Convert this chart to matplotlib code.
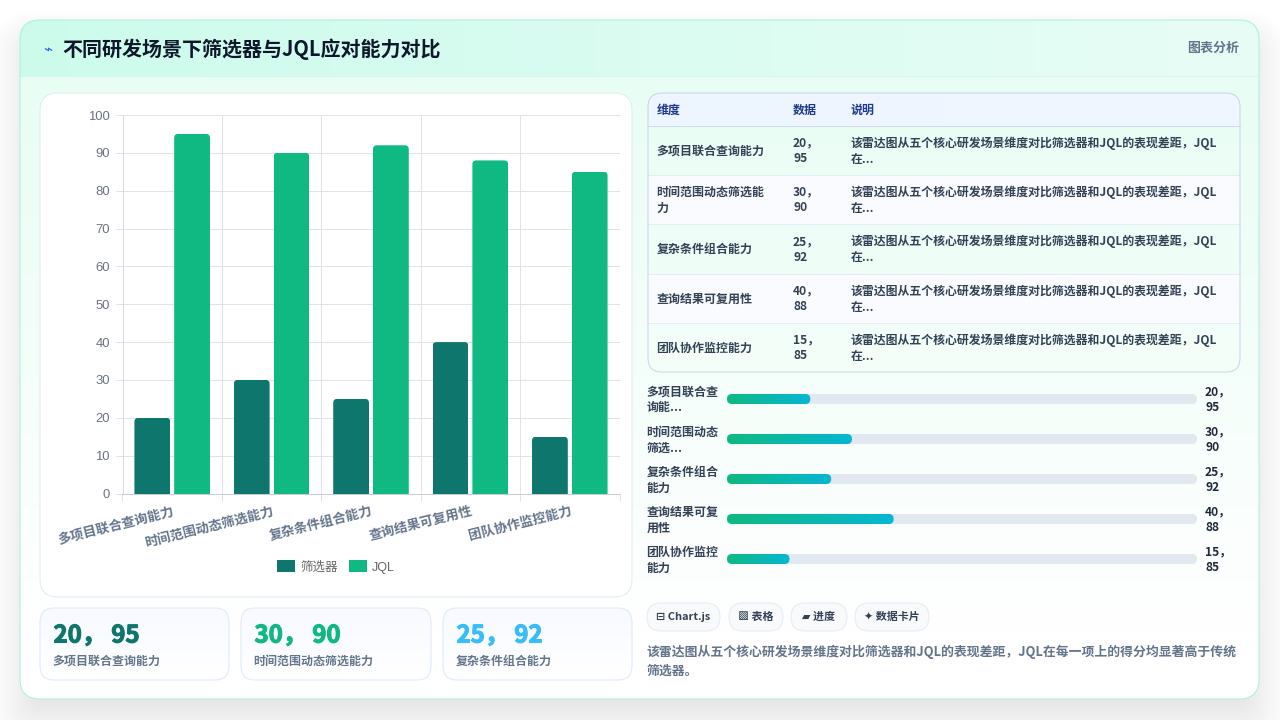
import numpy as np
import matplotlib
matplotlib.use("Agg")
import matplotlib.pyplot as plt
import matplotlib.patheffects as pe
from matplotlib.colors import to_rgb
from matplotlib.font_manager import FontProperties
from matplotlib.patches import FancyBboxPatch, Rectangle
from matplotlib.path import Path

plt.rcParams['font.family'] = ['Noto Sans CJK SC', 'DejaVu Sans']

categories = ["多项目联合查询能力", "时间范围动态筛选能力", "复杂条件组合能力", "查询结果可复用性", "团队协作监控能力"]
filter_scores = [20, 30, 25, 40, 15]
jql_scores = [95, 90, 92, 88, 85]
y_ticks = [0, 10, 20, 30, 40, 50, 60, 70, 80, 90, 100]

title = "不同研发场景下筛选器与JQL应对能力对比"
table_headers = ["维度", "数据", "说明"]
table_labels = ["多项目联合查询能力", "时间范围动态筛选能\n力", "复杂条件组合能力", "查询结果可复用性", "团队协作监控能力"]
table_note = "该雷达图从五个核心研发场景维度对比筛选器和JQL的表现差距，JQL\n在..."
progress_labels = ["多项目联合查\n询能...", "时间范围动态\n筛选...", "复杂条件组合\n能力", "查询结果可复\n用性", "团队协作监控\n能力"]
progress_max = 112.8
pills = ["⊟ Chart.js", "▩ 表格", "▰ 进度", "✦ 数据卡片"]
summary = "该雷达图从五个核心研发场景维度对比筛选器和JQL的表现差距，JQL在每一项上的得分均显著高于传统\n筛选器。"
stat_colors = ["#0F766E", "#10B981", "#38BDF8"]

DARK = "#0F766E"
GREEN = "#10B981"
PX = 0.72  # css px to pt at 100 dpi
LW = 0.72


def rbox(ax, x0, y0, x1, y1, r, fc="none", ec="none", lw=LW, z=2, alpha=None):
    p = FancyBboxPatch((x0, y0), x1 - x0, y1 - y0, boxstyle=f"round,pad=0,rounding_size={r}",
                       fc=fc, ec=ec, lw=lw, zorder=z, alpha=alpha)
    ax.add_patch(p)
    return p


def gradient(ax, x0, y0, x1, y1, c0, c1, clip, z=2, horizontal=True, stop=1.0):
    n = 256
    t = np.linspace(0, 1, n) / stop
    t = np.clip(t, 0, 1)[:, None]
    colors = np.array(to_rgb(c0)) * (1 - t) + np.array(to_rgb(c1)) * t
    img = colors[None, :, :] if horizontal else colors[:, None, :]
    im = ax.imshow(img, extent=(x0, x1, y1, y0), origin="upper", aspect="auto", zorder=z,
                   interpolation="bilinear")
    im.set_clip_path(clip)
    return im


fig = plt.figure(figsize=(12.8, 7.2), dpi=100, facecolor="white")
bg = fig.add_axes([0, 0, 1, 1])
bg.set_xlim(0, 1280)
bg.set_ylim(720, 0)
bg.axis("off")
bg.set_autoscale_on(False)

# soft shadow under the main card
for i in range(30):
    grow = 30 - i * 2
    rbox(bg, 20 - grow, 40 - grow, 1259 + grow, 719 + grow, max(20 + grow, 4), fc="black", z=0.5, alpha=0.0035)

card = rbox(bg, 20, 20, 1259, 699, 20, fc="white", z=1)
gradient(bg, 20, 20, 1259, 699, "#E6FDF3", "#FFFFFF", card, z=1.1, horizontal=False, stop=0.9)

# header strip
gradient(bg, 20, 20, 1259, 76, "#CCFBEC", "#E8FDF6", card, z=1.3)
bg.plot([20, 1259], [76, 76], color="#D3F5EA", lw=LW, zorder=1.4)
rbox(bg, 20, 20, 1259, 699, 20, ec="#A9EFE0", z=1.5)

bg.text(47.5, 50, "⌁", color="#2563EB", fontsize=15 * PX, ha="center", va="center", zorder=3,
        family=['DejaVu Sans'])
bg.text(62, 49.5, title, color="#0F172A", fontsize=20 * PX, weight="bold", va="center", zorder=3)
bg.text(1239, 48, "图表分析", color="#64748B", fontsize=13 * PX, weight="bold", ha="right", va="center", zorder=3)

# chart panel
rbox(bg, 40, 93, 632, 597, 18, fc="white", ec="#DFEDF0", z=2)

ax = fig.add_axes([122.5 / 1280, 1 - 493.5 / 720, (619.5 - 122.5) / 1280, (493.5 - 115) / 720])
ax.patch.set_alpha(0)
x = np.arange(len(categories))
bw = 0.36
bars_f = ax.bar(x - 0.2, filter_scores, bw, color=DARK, label="筛选器", zorder=3)
bars_j = ax.bar(x + 0.2, jql_scores, bw, color=GREEN, label="JQL", zorder=3)
ax.set_xlim(-0.5, 4.5)
ax.set_ylim(0, 100)
ax.set_yticks(y_ticks)
ax.set_xticks(np.arange(-0.5, 5, 1), minor=True)
ax.set_xticks(x)
ax.set_xticklabels(categories, rotation=14, ha="right", va="top", rotation_mode="anchor",
                   color="#64748B", fontsize=13.2 * PX, weight="bold")
ax.tick_params(axis="x", which="major", length=0, pad=7.5)
ax.tick_params(axis="x", which="minor", length=5, color="#DDE1E8", width=LW)
ax.tick_params(axis="y", length=5, color="#DDE1E8", width=LW, pad=4)
for lab in ax.get_yticklabels():
    lab.set_family(["Liberation Sans"])
    lab.set_color("#6B7280")
    lab.set_fontsize(13 * PX)
ax.grid(True, axis="y", color="#E0E4EA", lw=LW, zorder=0)
ax.grid(True, axis="x", which="minor", color="#E0E4EA", lw=LW, zorder=0)
ax.grid(False, axis="x", which="major")
for side in ["top", "right"]:
    ax.spines[side].set_visible(False)
ax.spines["left"].set_color("#D5D9E2")
ax.spines["bottom"].set_color("#C9CDD8")
for side in ["left", "bottom"]:
    ax.spines[side].set_linewidth(LW)

# round the top corners of every bar
rx, ry = 4 / 99.4, 4 / 3.785
for b in list(bars_f) + list(bars_j):
    x0, x1, h = b.get_x(), b.get_x() + b.get_width(), b.get_height()
    verts = [(x0, -1), (x0, h - ry), (x0, h), (x0 + rx, h), (x1 - rx, h), (x1, h), (x1, h - ry), (x1, -1), (x0, -1)]
    codes = [Path.MOVETO, Path.LINETO, Path.CURVE3, Path.CURVE3, Path.LINETO, Path.CURVE3, Path.CURVE3,
             Path.LINETO, Path.CLOSEPOLY]
    b.set_clip_path(Path(verts, codes), ax.transData)

leg = ax.legend(loc="center", bbox_to_anchor=((336 - 122.5) / 497, (493.5 - 567) / 378.5), ncol=2, frameon=False,
                prop=FontProperties(family=["Liberation Sans", "Noto Sans CJK SC"], size=12.5 * PX),
                handlelength=18 / 12.5, handleheight=1.1, handletextpad=0.45,
                columnspacing=0.85, borderaxespad=0, labelcolor="#666666")

# stat cards
for (sx0, sx1), i in zip([(40, 229), (241, 431), (443, 632)], range(3)):
    sc = rbox(bg, sx0, 608, sx1, 680, 14, fc="white", z=2)
    gradient(bg, sx0, 608, sx1, 680, "#F8FAFF", "#FFFFFF", sc, z=2.1, horizontal=False)
    rbox(bg, sx0, 608, sx1, 680, 14, ec="#DDE9F8", z=2.2)
    val = bg.text(sx0 + 13.5, 635.5, f"{filter_scores[i]}， {jql_scores[i]}", color=stat_colors[i], fontsize=24 * PX,
                  weight="bold", va="center", zorder=3)
    val.set_path_effects([pe.withStroke(linewidth=0.8, foreground=stat_colors[i])])
    bg.text(sx0 + 12.5, 661, categories[i], color="#64748B", fontsize=12 * PX, weight="bold", va="center", zorder=3)

# table
tbl = rbox(bg, 648, 93, 1240, 372, 14, fc="none", z=2)
gradient(bg, 648, 93, 1240, 126, "#EDF5FF", "#F1F7FF", tbl, z=2.1)
row_edges = [126, 175, 224, 274, 323, 372]
for i in range(5):
    if i % 2 == 1:
        r = Rectangle((648, row_edges[i]), 592, row_edges[i + 1] - row_edges[i], fc="#FAFBFF", ec="none", zorder=2.1)
        bg.add_patch(r)
    line_color = "#CBD9EA" if i == 0 else "#E6ECF3"
    bg.plot([648, 1240], [row_edges[i], row_edges[i]], color=line_color, lw=LW, zorder=2.2)
rbox(bg, 648, 93, 1240, 372, 14, ec="#C7D5E4", z=2.3)

for hx, htext in zip([656.5, 793, 850.5], table_headers):
    bg.text(hx, 110, htext, color="#1E3A8A", fontsize=12 * PX, weight="bold", va="center", zorder=3)
for i in range(5):
    cy = (row_edges[i] + row_edges[i + 1]) / 2 + 0.5
    bg.text(656.5, cy, table_labels[i], color="#334155", fontsize=12 * PX, weight="bold", va="center", zorder=3,
            linespacing=1.27)
    bg.text(793, cy, f"{filter_scores[i]}，\n{jql_scores[i]}", color="#334155", fontsize=12 * PX, weight="bold",
            va="center", zorder=3, linespacing=1.27)
    bg.text(850.5, cy, table_note, color="#334155", fontsize=11.9 * PX, weight="bold", va="center", zorder=3,
            linespacing=1.27)

# progress rows
track_x0, track_x1 = 727, 1197
for i in range(5):
    cy = 399 + i * 40
    rbox(bg, track_x0, cy - 5, track_x1, cy + 5, 5, fc="#E2E8F0", z=2)
    fill_end = track_x0 + (track_x1 - track_x0) * filter_scores[i] / progress_max
    clip = rbox(bg, track_x0, cy - 5, fill_end, cy + 5, 5, fc="none", z=2.1)
    gradient(bg, track_x0, cy - 5, fill_end, cy + 5, "#10B981", "#06B6D4", clip, z=2.2)
    bg.text(646.5, cy + 1, progress_labels[i], color="#334155", fontsize=12 * PX, weight="bold", va="center",
            zorder=3, linespacing=1.27)
    bg.text(1205, cy + 1, f"{filter_scores[i]}，\n{jql_scores[i]}", color="#1E293B", fontsize=12 * PX, weight="bold",
            va="center", zorder=3, linespacing=1.27)

# tag pills
for (px0, px1), label in zip([(647, 720), (729, 783), (791, 847), (855, 929)], pills):
    rbox(bg, px0, 603, px1, 631, 14, fc="#F8FAFC", ec="#E6EBF2", z=2)
    bg.text((px0 + px1) / 2, 617, label, color="#334155", fontsize=11 * PX, weight="bold", ha="center", va="center",
            zorder=3)

bg.text(646.5, 661.5, summary, color="#64748B", fontsize=12.87 * PX, weight="bold", va="center", zorder=3,
        linespacing=1.42)

fig.savefig("out.png", dpi=100)
